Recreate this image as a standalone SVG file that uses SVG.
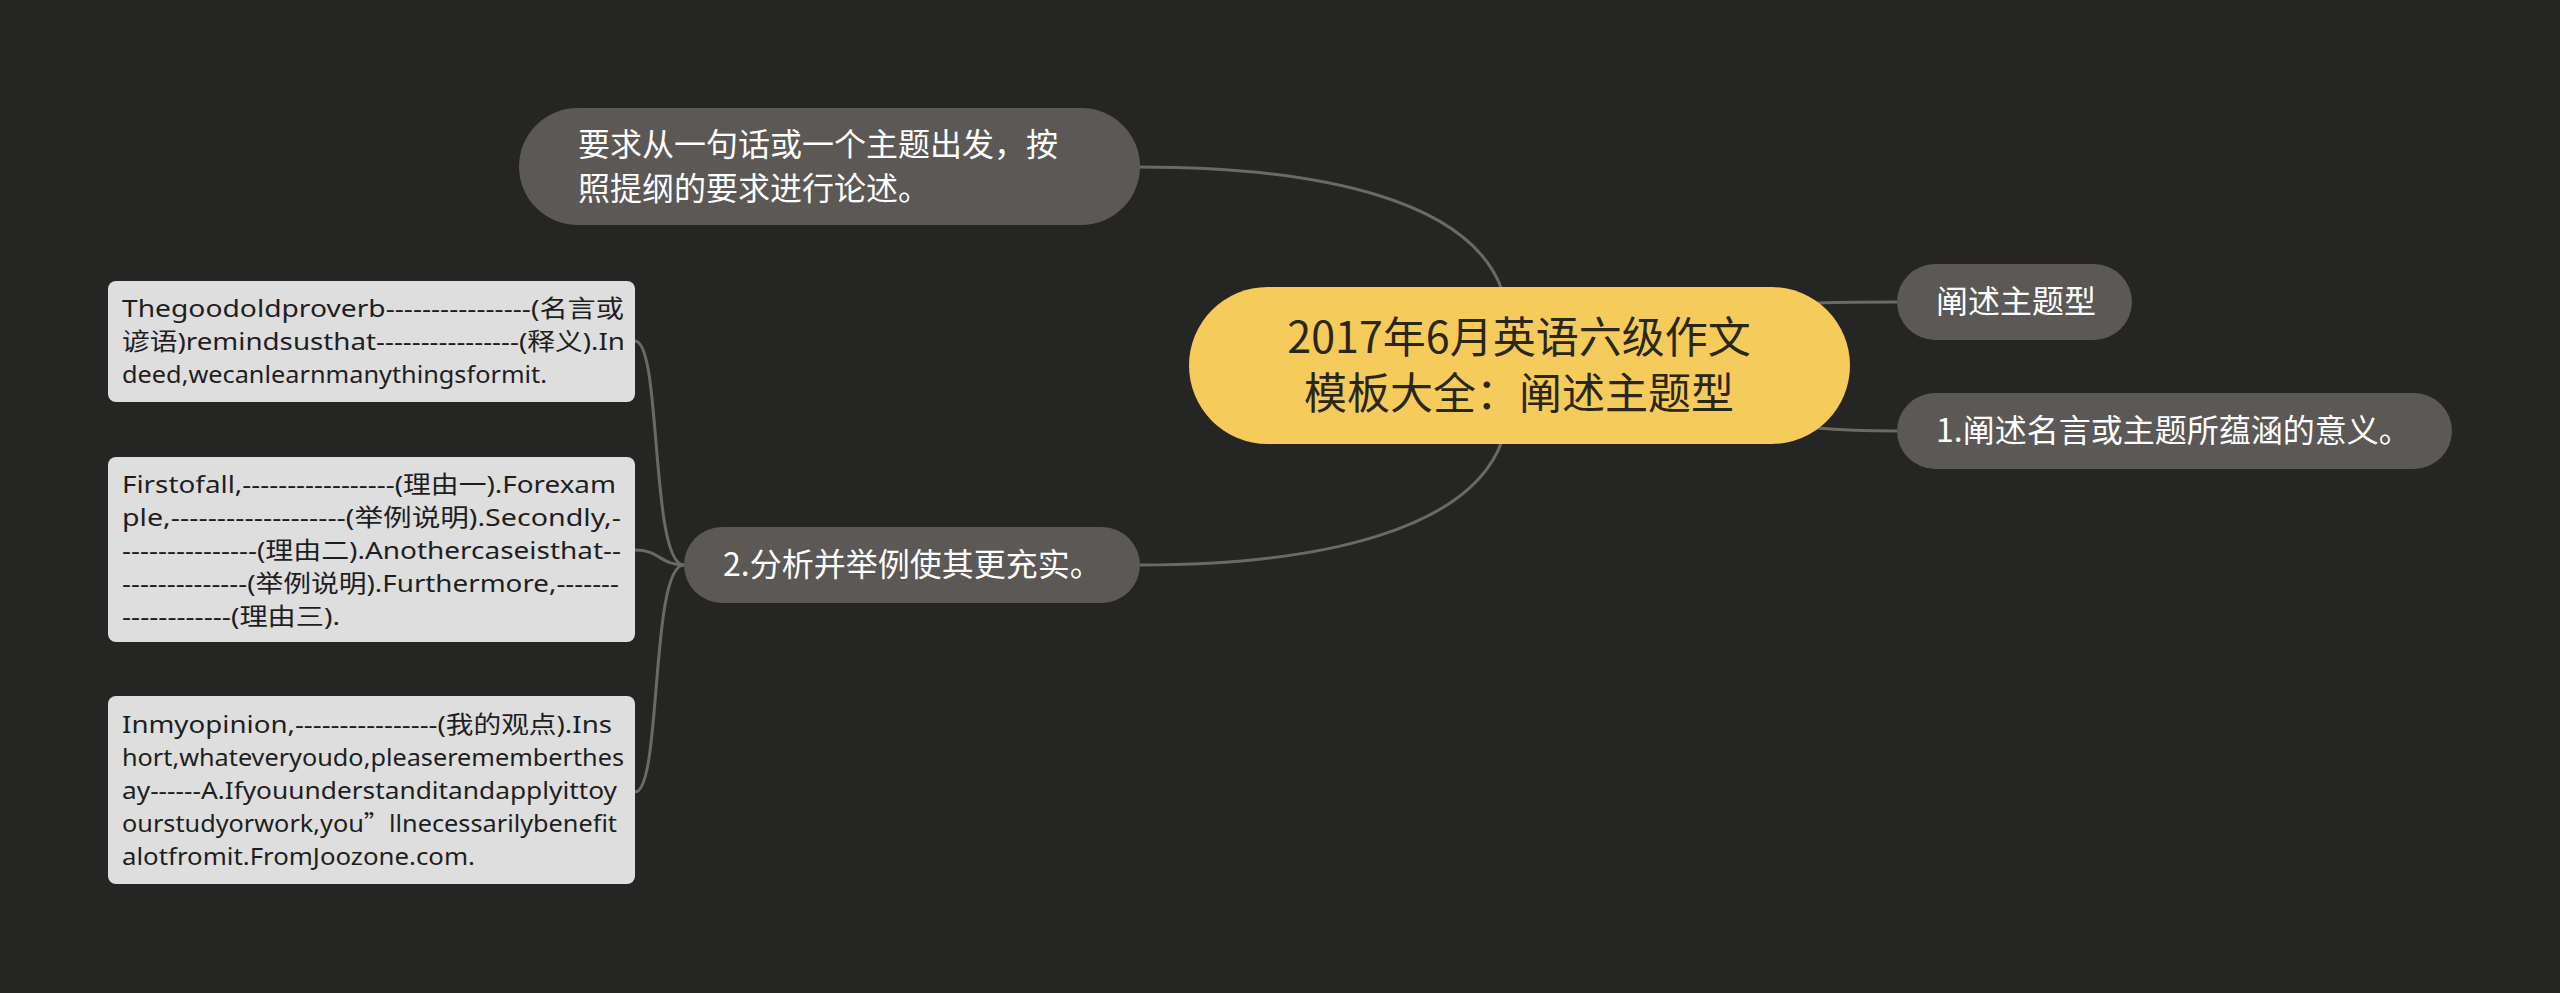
<svg xmlns="http://www.w3.org/2000/svg" width="2560" height="993" viewBox="0 0 2560 993">
<style>
.bg{fill:#252523}
.conn{fill:none;stroke:#6b6966;stroke-width:3}
.pill{fill:#5b5855}
.leaf{fill:#dedede}
.tw{font-family:"Noto Sans CJK SC","Noto Sans",sans-serif;fill:#ffffff;font-size:32px}
.tl{font-family:"Noto Sans","Noto Sans CJK SC",sans-serif;fill:#1e1e1e;font-size:24px}
.cjk{font-family:"Noto Sans CJK SC",sans-serif}
.tc{font-family:"Noto Sans CJK SC","Noto Sans",sans-serif;fill:#2b2716;font-size:43px}
</style>
<rect class="bg" x="0" y="0" width="2560" height="993"/>
<g id="connectors">
<path class="conn" d="M1502,290 C1470,200 1320,167 1140,167"/>
<path class="conn" d="M1502,441 C1470,530 1320,565 1140,565"/>
<path class="conn" d="M1817,303 C1850,302 1870,302 1897,302"/>
<path class="conn" d="M1817,428 C1850,431 1870,431 1897,431"/>
<path class="conn" d="M684,565 C650,565 662,341 635,341"/>
<path class="conn" d="M684,565 C660,565 660,550 635,550"/>
<path class="conn" d="M684,565 C650,565 662,792 635,792"/>
</g>
<g id="node-center">
<rect x="1189" y="287" width="661" height="157" rx="78.5" fill="#f5cb5c"/>
<text class="tc" x="1519" y="353" text-anchor="middle">2017年6月英语六级作文</text>
<text class="tc" x="1519" y="409" text-anchor="middle">模板大全：阐述主题型</text>
</g>
<g id="node-top">
<rect class="pill" x="519" y="108" width="621" height="117" rx="58.5"/>
<text class="tw" x="578" y="156">要求从一句话或一个主题出发，按</text>
<text class="tw" x="578" y="200">照提纲的要求进行论述。</text>
</g>
<g id="node-r1">
<rect class="pill" x="1897" y="264" width="235" height="76" rx="38"/>
<text class="tw" x="1936" y="313">阐述主题型</text>
</g>
<g id="node-r2">
<rect class="pill" x="1897" y="393" width="555" height="76" rx="38"/>
<text class="tw" x="1936" y="442">1.阐述名言或主题所蕴涵的意义。</text>
</g>
<g id="node-l">
<rect class="pill" x="684" y="527" width="456" height="76" rx="38"/>
<text class="tw" x="723" y="576">2.分析并举例使其更充实。</text>
</g>
<g id="leaf-1">
<rect class="leaf" x="108" y="281" width="527" height="121" rx="8"/>
<text class="tl" x="122" y="317" textLength="502" lengthAdjust="spacingAndGlyphs">Thegoodoldproverb----------------(名言或</text>
<text class="tl" x="122" y="350" textLength="503" lengthAdjust="spacingAndGlyphs">谚语)remindsusthat----------------(释义).In</text>
<text class="tl" x="122" y="383" textLength="425" lengthAdjust="spacingAndGlyphs">deed,wecanlearnmanythingsformit.</text>
</g>
<g id="leaf-2">
<rect class="leaf" x="108" y="457" width="527" height="185" rx="8"/>
<text class="tl" x="122" y="493" textLength="494" lengthAdjust="spacingAndGlyphs">Firstofall,-----------------(理由一).Forexam</text>
<text class="tl" x="122" y="526" textLength="499" lengthAdjust="spacingAndGlyphs">ple,-------------------(举例说明).Secondly,-</text>
<text class="tl" x="122" y="559" textLength="499" lengthAdjust="spacingAndGlyphs">---------------(理由二).Anothercaseisthat--</text>
<text class="tl" x="122" y="592" textLength="497" lengthAdjust="spacingAndGlyphs">--------------(举例说明).Furthermore,-------</text>
<text class="tl" x="122" y="625" textLength="218" lengthAdjust="spacingAndGlyphs">------------(理由三).</text>
</g>
<g id="leaf-3">
<rect class="leaf" x="108" y="696" width="527" height="188" rx="8"/>
<text class="tl" x="122" y="733" textLength="490" lengthAdjust="spacingAndGlyphs">Inmyopinion,----------------(我的观点).Ins</text>
<text class="tl" x="122" y="766" textLength="502" lengthAdjust="spacingAndGlyphs">hort,whateveryoudo,pleaserememberthes</text>
<text class="tl" x="122" y="799" textLength="495" lengthAdjust="spacingAndGlyphs">ay------A.Ifyouunderstanditandapplyittoy</text>
<text class="tl" x="122" y="832" textLength="495" lengthAdjust="spacingAndGlyphs">ourstudyorwork,you<tspan class="cjk">”</tspan>llnecessarilybenefit</text>
<text class="tl" x="122" y="865" textLength="353" lengthAdjust="spacingAndGlyphs">alotfromit.FromJoozone.com.</text>
</g>
</svg>
